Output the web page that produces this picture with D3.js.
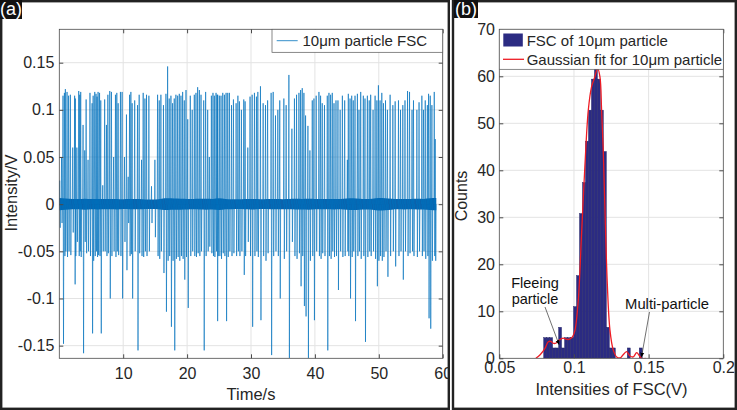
<!DOCTYPE html>
<html><head><meta charset="utf-8">
<script src="https://cdn.jsdelivr.net/npm/d3@7"></script>
<style>body{margin:0;background:#fff}svg{display:block}text{font-family:"Liberation Sans",Arial,sans-serif}</style>
</head><body>
<script>
// ---------- Panel (a) data: spikes [time s, max V, min V] ----------
const spikeT = [0.06,0.35,0.58,0.8,0.95,1.21,1.45,1.73,2.1,2.4,2.51,2.75,3.04,3.2,3.35,3.72,3.98,4.2,4.5,4.8,5.13,5.3,5.55,5.75,5.91,6.07,6.3,6.49,6.8,7.1,7.38,7.6,7.9,8.16,8.5,8.79,9.0,9.21,9.57,9.83,10.2,10.51,10.78,11.0,11.2,11.4,11.8,12.24,12.5,12.87,13.13,13.4,13.65,14.02,14.43,14.96,
15.38,15.64,15.9,16.3,16.69,16.95,17.2,17.47,17.73,17.99,18.25,18.52,18.78,19.04,19.3,19.56,19.83,20.1,20.5,20.8,21.13,21.39,21.65,21.92,22.18,22.6,22.9,23.22,23.48,23.8,24.05,24.27,24.53,24.7,24.79,25.05,25.31,25.58,25.84,26.1,26.36,26.62,26.95,27.25,27.67,27.95,28.19,28.5,28.87,29.08,29.5,
29.85,30.18,30.54,30.85,31.07,31.48,31.9,32.27,32.6,33.15,33.47,33.83,34.2,34.5,35.14,35.5,35.93,36.4,36.8,37.13,37.5,37.76,38.02,38.28,38.54,38.91,39.22,39.59,39.85,40.2,40.63,40.89,41.15,41.5,41.94,42.2,42.46,42.72,42.99,43.3,43.61,43.95,44.3,44.66,45.08,
45.23,45.5,45.76,46.0,46.28,46.65,46.9,47.17,47.58,47.84,48.21,48.5,48.73,49.1,49.42,49.7,49.94,50.2,50.47,50.73,51.05,51.35,51.77,52.2,52.56,53.08,53.4,53.76,54.1,54.5,54.81,55.2,55.43,55.96,56.3,56.74,57.0,57.27,57.6,57.79,58.05,58.31,58.68,58.83];
const spikeHi = [0.025,0.05,0.115,0.118,0.122,0.119,0.115,0.116,0.06,0.115,0.112,0.06,0.12,0.116,0.119,0.084,0.057,0.111,0.047,0.118,0.107,0.115,0.119,0.117,0.114,0.119,0.118,0.11,0.02,0.111,0.084,0.116,0.12,0.119,0.05,0.116,0.118,0.107,0.119,0.119,0.05,0.095,0.029,0.116,0.119,0.107,0.11,0.105,0.116,0.047,0.118,0.112,0.116,0.115,0.019,0.047,
0.116,0.11,0.116,0.105,0.117,0.146,0.112,0.115,0.107,0.112,0.116,0.115,0.117,0.115,0.119,0.11,0.121,0.09,0.115,0.1,0.116,0.118,0.124,0.121,0.116,0.11,0.119,0.1,0.05,0.115,0.118,0.115,0.118,0.116,0.116,0.115,0.115,0.118,0.116,0.118,0.118,0.118,0.105,0.111,0.107,0.115,0.109,0.1,0.111,0.109,0.06,
0.114,0.116,0.118,0.114,0.119,0.125,0.107,0.105,0.11,0.118,0.119,0.094,0.1,0.11,0.112,0.105,0.137,0.08,0.112,0.116,0.118,0.121,0.123,0.118,0.094,0.083,0.057,0.11,0.112,0.115,0.119,0.115,0.107,0.105,0.115,0.118,0.116,0.118,0.107,0.11,0.11,0.1,0.115,0.11,0.047,
0.117,0.112,0.115,0.11,0.115,0.117,0.1,0.119,0.115,0.112,0.115,0.11,0.116,0.1,0.115,0.11,0.126,0.11,0.118,0.107,0.11,0.1,0.116,0.105,0.109,0.11,0.1,0.105,0.11,0.12,0.119,0.1,0.11,0.1,0.108,0.115,0.1,0.11,0.105,0.117,0.115,0.105,0.119,0.069];
const spikeLo = [-0.025,-0.02,-0.148,-0.055,-0.05,-0.056,-0.05,-0.054,-0.03,-0.085,-0.055,-0.04,-0.055,-0.05,-0.056,-0.158,-0.04,-0.052,-0.05,-0.055,-0.137,-0.06,-0.055,-0.05,-0.056,-0.054,-0.055,-0.137,-0.05,-0.05,-0.055,-0.052,-0.1,-0.055,-0.05,-0.056,-0.05,-0.054,-0.055,-0.1,-0.04,-0.07,-0.02,-0.055,-0.053,-0.1,-0.05,-0.155,-0.052,-0.055,-0.056,-0.05,-0.055,-0.05,-0.02,-0.035,
-0.055,-0.058,-0.05,-0.073,-0.114,-0.06,-0.055,-0.13,-0.06,-0.155,-0.058,-0.056,-0.06,-0.055,-0.058,-0.08,-0.056,-0.11,-0.055,-0.05,-0.055,-0.056,-0.052,-0.055,-0.05,-0.155,-0.055,-0.05,-0.045,-0.052,-0.055,-0.056,-0.05,-0.124,-0.055,-0.055,-0.058,-0.052,-0.055,-0.124,-0.056,-0.05,-0.055,-0.052,-0.055,-0.05,-0.055,-0.05,-0.075,-0.055,-0.04,
-0.055,-0.13,-0.055,-0.05,-0.056,-0.123,-0.055,-0.06,-0.052,-0.16,-0.055,-0.05,-0.055,-0.1,-0.058,-0.05,-0.163,-0.04,-0.055,-0.058,-0.052,-0.087,-0.055,-0.108,-0.119,-0.163,-0.06,-0.055,-0.123,-0.05,-0.055,-0.058,-0.052,-0.055,-0.155,-0.055,-0.058,-0.05,-0.056,-0.055,-0.091,-0.05,-0.056,-0.055,-0.05,
-0.055,-0.1,-0.056,-0.05,-0.124,-0.055,-0.05,-0.058,-0.055,-0.146,-0.056,-0.05,-0.055,-0.05,-0.058,-0.087,-0.06,-0.055,-0.06,-0.056,-0.05,-0.077,-0.055,-0.05,-0.066,-0.055,-0.05,-0.08,-0.05,-0.055,-0.052,-0.05,-0.055,-0.056,-0.05,-0.055,-0.05,-0.058,-0.055,-0.121,-0.132,-0.06,-0.055,-0.06];
// baseline noise half-amplitude (V), one value per second 0..59
const noiseAmp = [0.0065,0.006,0.0055,0.0055,0.0058,0.0055,0.0056,0.0054,0.0055,0.0056,0.0052,0.0054,0.0055,0.0053,0.005,0.005,0.0058,0.0062,0.006,0.0058,0.0056,0.0055,0.0057,0.0058,0.0056,0.0062,0.0055,0.0053,0.0052,0.0055,0.0056,0.0055,0.0052,0.0054,0.0055,0.0053,0.0055,0.0057,0.0056,0.0058,0.0055,0.0054,0.0055,0.0056,0.0055,0.006,0.0062,0.0058,0.0056,0.0058,0.0066,0.0064,0.0058,0.0055,0.0056,0.0055,0.0057,0.0056,0.0062,0.0065];
const aXTicks = [10,20,30,40,50,60];
const aYTicks = [-0.15,-0.1,-0.05,0,0.05,0.1,0.15];

// ---------- Panel (b) data ----------
const binCenters = [0.0807,0.0827,0.0847,0.0867,0.0887,0.0907,0.0927,0.0947,0.0967,0.0987,0.1007,0.1027,0.1047,0.1067,0.1087,0.1107,0.1127,0.1147,0.1167,0.1187,0.1207,0.1227,0.1247,0.1267,0.1367,0.1447];
const binCounts  = [4.4,4.4,4.4,2.2,2.2,6.6,2.2,4.4,4.4,4.4,11,17.6,30.8,37.4,46.2,52.8,59.4,61.6,59.4,52.8,44,6.6,2.2,2.2,2.2,2.2];
const binWidth = 0.002;
const fitX = [0.0745,0.0775,0.0806,0.0828,0.0845,0.0861,0.0878,0.0895,0.0912,0.0928,0.0945,0.0962,0.0978,0.0991,0.1007,0.1029,0.1051,0.1073,0.1096,0.1118,0.114,0.1158,0.1174,0.1185,0.1196,0.1207,0.1223,0.1241,0.1263,0.1286,0.131,0.1325,0.1353,0.1375,0.1397,0.142,0.1437,0.1453,0.148];
const fitY = [0,0.8,2.1,3.5,3.6,3.2,3.2,3.7,4.1,4.3,4.1,4.0,4.2,4.6,6,12.4,26.6,40.8,52.8,57.8,59.9,61.7,59.9,52.8,44.3,32.3,16,6,1.8,0.3,0.1,0.6,1.4,0.5,0.3,1.2,0.6,0,0];
const bXTicks = [0.05,0.1,0.15,0.2];
const bYTicks = [0,10,20,30,40,50,60,70];

const W=737,H=410;
const svg=d3.select("body").append("svg").attr("width",W).attr("height",H);
const defs=svg.append("defs");
defs.append("clipPath").attr("id","clipA").append("rect").attr("x",0).attr("y",0).attr("width",449).attr("height",410);
defs.append("clipPath").attr("id","plotA").append("rect").attr("x",59.3).attr("y",29.3).attr("width",383.4).attr("height",329);
defs.append("clipPath").attr("id","plotB").append("rect").attr("x",499.3).attr("y",29.3).attr("width",224).attr("height",329);
defs.append("marker").attr("id","arr").attr("viewBox","0 0 10 10").attr("refX",9).attr("refY",5)
  .attr("markerWidth",7).attr("markerHeight",7).attr("orient","auto-start-reverse")
  .append("path").attr("d","M0,1 L10,5 L0,9 z").attr("fill","#000");

const AX="#4a4a4a", GRID="#e3e3e3", TXT="#262626";

// ================= Panel (a) =================
const gA=svg.append("g").attr("clip-path","url(#clipA)");
const xA=d3.scaleLinear().domain([0,60]).range([59.3,442.7]);
const yA=d3.scaleLinear().domain([-0.1634,0.1854]).range([358.3,29.3]);
// grid
gA.append("g").selectAll("line").data(aXTicks).join("line")
  .attr("x1",d=>xA(d)).attr("x2",d=>xA(d)).attr("y1",29.3).attr("y2",358.3).attr("stroke",GRID);
gA.append("g").selectAll("line").data(aYTicks).join("line")
  .attr("y1",d=>yA(d)).attr("y2",d=>yA(d)).attr("x1",59.3).attr("x2",442.7).attr("stroke",GRID);
// signal
const sig=gA.append("g").attr("clip-path","url(#plotA)");
const noiseT=noiseAmp.map((_,i)=>i);
sig.append("path").datum(noiseT)
  .attr("d",d3.area().x(d=>xA(Math.min(d,59.1))).y0(d=>yA(-noiseAmp[d])).y1(d=>yA(noiseAmp[d])).curve(d3.curveMonotoneX))
  .attr("fill","#0a63ad");
sig.append("g").selectAll("path").data(spikeT).join("path")
  .attr("d",(t,i)=>{const x=xA(t);return `M${x-0.4},${yA(0)}L${x},${yA(spikeHi[i])}L${x+0.5},${yA(spikeLo[i])}L${x+0.9},${yA(0)}`;})
  .attr("fill","none").attr("stroke","#0072BD").attr("stroke-width",0.8).attr("stroke-opacity",0.8);
// box + ticks
gA.append("rect").attr("x",59.3).attr("y",29.3).attr("width",383.4).attr("height",329).attr("fill","none").attr("stroke",AX).attr("stroke-width",0.8);
const axA_b=gA.append("g").attr("transform","translate(0,358.3)").call(d3.axisBottom(xA).tickValues(aXTicks).tickSize(-4).tickPadding(9).tickFormat(d3.format("d")));
const axA_t=gA.append("g").attr("transform","translate(0,29.3)").call(d3.axisTop(xA).tickValues(aXTicks).tickSize(-4).tickFormat(""));
const axA_l=gA.append("g").attr("transform","translate(59.3,0)").call(d3.axisLeft(yA).tickValues(aYTicks).tickSize(-4).tickPadding(5).tickFormat(d=>d===0?"0":String(+d.toFixed(2))));
const axA_r=gA.append("g").attr("transform","translate(442.7,0)").call(d3.axisRight(yA).tickValues(aYTicks).tickSize(-4).tickFormat(""));
[axA_b,axA_t,axA_l,axA_r].forEach(a=>{a.select(".domain").remove();a.selectAll("line").attr("stroke",AX);a.selectAll("text").attr("font-size",16).attr("fill",TXT).attr("font-family","Liberation Sans, Arial, sans-serif");});
gA.append("text").attr("x",251).attr("y",400).attr("text-anchor","middle").attr("font-size",16.5).attr("fill",TXT).text("Time/s");
gA.append("text").attr("transform","translate(17,193) rotate(-90)").attr("text-anchor","middle").attr("font-size",16.5).attr("fill",TXT).text("Intensity/V");
// legend
gA.append("rect").attr("x",272).attr("y",29.3).attr("width",170.7).attr("height",23).attr("fill","#fff").attr("stroke","#555").attr("stroke-width",0.7);
gA.append("line").attr("x1",276.7).attr("x2",297.7).attr("y1",40.7).attr("y2",40.7).attr("stroke","#0072BD").attr("stroke-width",0.8);
gA.append("text").attr("x",302.5).attr("y",46.2).attr("font-size",15).attr("fill",TXT).text("10μm particle FSC");
// frame + label
svg.append("rect").attr("x",1.2).attr("y",1.2).attr("width",447.6).attr("height",407.6).attr("fill","none").attr("stroke","#222").attr("stroke-width",2.4);
svg.append("rect").attr("x",0).attr("y",0).attr("width",22).attr("height",19).attr("fill","#111");
svg.append("text").attr("x",11).attr("y",15).attr("text-anchor","middle").attr("font-family","Liberation Serif, Times New Roman, serif").attr("font-size",18).attr("fill","#fff").text("(a)");

// ================= Panel (b) =================
const gB=svg.append("g");
const xB=d3.scaleLinear().domain([0.05,0.2]).range([499.3,723.3]);
const yB=d3.scaleLinear().domain([0,70]).range([358.3,29.3]);
gB.append("g").selectAll("line").data(bXTicks.slice(1,-1)).join("line")
  .attr("x1",d=>xB(d)).attr("x2",d=>xB(d)).attr("y1",29.3).attr("y2",358.3).attr("stroke",GRID);
gB.append("g").selectAll("line").data(bYTicks.slice(1,-1)).join("line")
  .attr("y1",d=>yB(d)).attr("y2",d=>yB(d)).attr("x1",499.3).attr("x2",723.3).attr("stroke",GRID);
const plotB=gB.append("g").attr("clip-path","url(#plotB)");
plotB.append("g").selectAll("rect").data(binCenters).join("rect")
  .attr("x",d=>xB(d-binWidth/2)).attr("width",d=>xB(d+binWidth/2)-xB(d-binWidth/2))
  .attr("y",(d,i)=>yB(binCounts[i])).attr("height",(d,i)=>yB(0)-yB(binCounts[i]))
  .attr("fill","#2b2b82").attr("stroke","#1c1c5c").attr("stroke-width",0.4);
plotB.append("path").datum(fitX)
  .attr("d",d3.line().x(d=>xB(d)).y((d,i)=>yB(fitY[i])).curve(d3.curveCatmullRom.alpha(0.5)))
  .attr("fill","none").attr("stroke","#ee1c24").attr("stroke-width",1.3);
gB.append("rect").attr("x",499.3).attr("y",29.3).attr("width",224).attr("height",329).attr("fill","none").attr("stroke",AX).attr("stroke-width",0.8);
const axB_b=gB.append("g").attr("transform","translate(0,358.3)").call(d3.axisBottom(xB).tickValues(bXTicks).tickSize(-4).tickPadding(3.4).tickFormat(d=>String(+d.toFixed(2))));
const axB_t=gB.append("g").attr("transform","translate(0,29.3)").call(d3.axisTop(xB).tickValues(bXTicks).tickSize(-4).tickFormat(""));
const axB_l=gB.append("g").attr("transform","translate(499.3,0)").call(d3.axisLeft(yB).tickValues(bYTicks).tickSize(-4).tickPadding(4.3).tickFormat(d3.format("d")));
const axB_r=gB.append("g").attr("transform","translate(723.3,0)").call(d3.axisRight(yB).tickValues(bYTicks).tickSize(-4).tickFormat(""));
[axB_b,axB_t,axB_l,axB_r].forEach(a=>{a.select(".domain").remove();a.selectAll("line").attr("stroke",AX);a.selectAll("text").attr("font-size",16).attr("fill",TXT).attr("font-family","Liberation Sans, Arial, sans-serif");});
gB.append("text").attr("x",611.5).attr("y",394.5).attr("text-anchor","middle").attr("font-size",16.5).attr("fill",TXT).text("Intensities of FSC(V)");
gB.append("text").attr("transform","translate(467,196) rotate(-90)").attr("text-anchor","middle").attr("font-size",16).attr("fill",TXT).text("Counts");
// annotations
gB.append("text").attr("x",535).attr("y",287.5).attr("text-anchor","middle").attr("font-size",14.5).attr("fill","#111").text("Fleeing");
gB.append("text").attr("x",535).attr("y",304).attr("text-anchor","middle").attr("font-size",14.5).attr("fill","#111").text("particle");
gB.append("line").attr("x1",545).attr("y1",307).attr("x2",559).attr("y2",344.5).attr("stroke","#333").attr("stroke-width",0.7).attr("marker-end","url(#arr)");
gB.append("text").attr("x",667).attr("y",309).attr("text-anchor","middle").attr("font-size",14.8).attr("fill","#111").text("Multi-particle");
gB.append("line").attr("x1",649.5).attr("y1",312).attr("x2",641.5).attr("y2",357).attr("stroke","#333").attr("stroke-width",0.7).attr("marker-end","url(#arr)");
// legend
gB.append("rect").attr("x",499.3).attr("y",29.3).attr("width",224).attr("height",40).attr("fill","#fff").attr("stroke","#555").attr("stroke-width",0.7);
gB.append("rect").attr("x",503.3).attr("y",33.5).attr("width",19.5).attr("height",13).attr("fill","#2b2b82");
gB.append("text").attr("x",526.7).attr("y",45.8).attr("font-size",15).attr("fill",TXT).text("FSC of 10μm particle");
gB.append("line").attr("x1",503).attr("x2",524).attr("y1",59.3).attr("y2",59.3).attr("stroke","#ee1c24").attr("stroke-width",1.3);
gB.append("text").attr("x",526.7).attr("y",64.8).attr("font-size",15).attr("fill",TXT).text("Gaussian fit for 10μm particle");
// frame + label
svg.append("rect").attr("x",453).attr("y",1.2).attr("width",282.8).attr("height",407.6).attr("fill","none").attr("stroke","#222").attr("stroke-width",2.4);
svg.append("rect").attr("x",454).attr("y",0).attr("width",24).attr("height",18).attr("fill","#111");
svg.append("text").attr("x",466).attr("y",14.5).attr("text-anchor","middle").attr("font-family","Liberation Serif, Times New Roman, serif").attr("font-size",18).attr("fill","#fff").text("(b)");
</script>
</body></html>
